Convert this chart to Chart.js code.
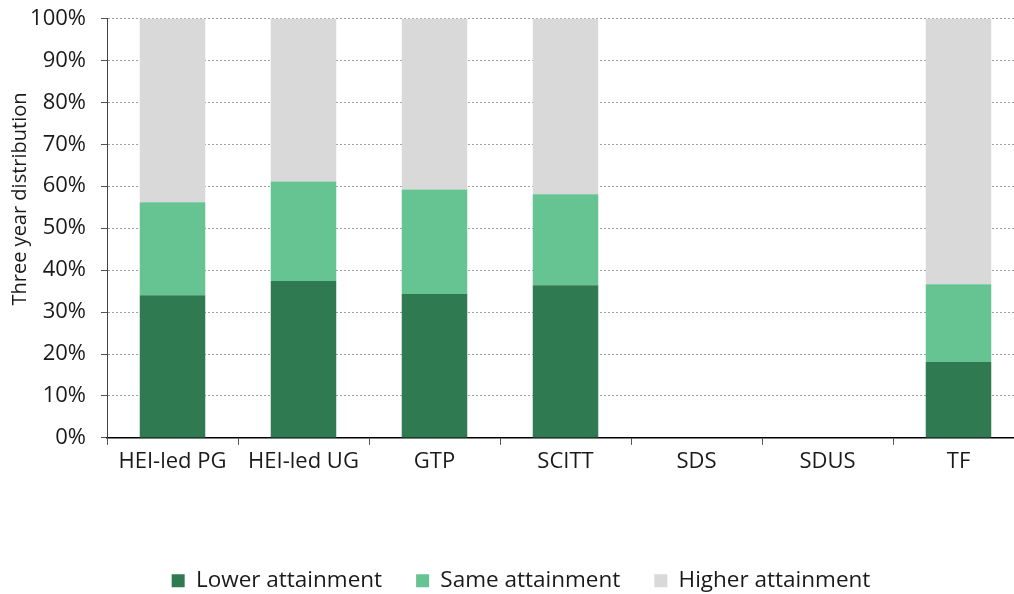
<!DOCTYPE html>
<html>
<head>
<meta charset="utf-8">
<script src="https://cdn.jsdelivr.net/npm/chart.js@4/dist/chart.umd.min.js"></script>
<style>
  html, body { margin: 0; padding: 0; background: #fff; overflow: hidden; }
  #wrap { width: 1024px; height: 594px; position: relative; }
</style>
</head>
<body>
<div id="wrap"><canvas id="c"></canvas></div>
<script>
const categories = ['HEI-led PG', 'HEI-led UG', 'GTP', 'SCITT', 'SDS', 'SDUS', 'TF'];
const lowerAttainment  = [34.0, 37.4, 34.3, 36.4, null, null, 18.1];
const sameAttainment   = [22.2, 23.7, 24.9, 21.7, null, null, 18.5];
const higherAttainment = [43.8, 38.9, 40.8, 41.9, null, null, 63.4];
const seriesNames = ['Lower attainment', 'Same attainment', 'Higher attainment'];
const yTicks = [0, 10, 20, 30, 40, 50, 60, 70, 80, 90, 100];
const yTitle = 'Three year distribution';

const colors = ['#2F7A51', '#66C492', '#D9D9D9'];
const mainFont = "'Open Sans', 'Noto Sans', sans-serif";

Chart.defaults.font.family = mainFont;
Chart.defaults.color = '#1a1a1a';

const legendShift = {
  id: 'legendShift',
  afterLayout(chart) {
    const l = chart.legend;
    if (l) { l.top += 8; l.bottom += 8; l.left += 9; l.right += 9; }
  }
};

const yTitlePlugin = {
  id: 'yTitlePlugin',
  afterDraw(chart) {
    const ctx = chart.ctx;
    ctx.save();
    ctx.translate(20, 199);
    ctx.rotate(-Math.PI / 2);
    ctx.font = "20px " + mainFont;
    ctx.fillStyle = '#1a1a1a';
    ctx.textAlign = 'center';
    ctx.textBaseline = 'middle';
    ctx.fillText(yTitle, 0, 0);
    ctx.restore();
  }
};

new Chart(document.getElementById('c'), {
  type: 'bar',
  data: {
    labels: categories,
    datasets: [lowerAttainment, sameAttainment, higherAttainment].map((d, i) => ({
      label: seriesNames[i],
      data: d,
      backgroundColor: colors[i],
      borderWidth: 0,
      barPercentage: 0.5,
      categoryPercentage: 1.0
    }))
  },
  plugins: [legendShift, yTitlePlugin],
  options: {
    responsive: true,
    maintainAspectRatio: false,
    animation: false,
    layout: { padding: { top: 0, right: 0, left: 0, bottom: 0 } },
    plugins: {
      tooltip: { enabled: false },
      legend: {
        position: 'bottom',
        labels: {
          font: { size: 22.5 },
          color: '#1a1a1a',
          boxWidth: 13,
          boxHeight: 13,
          padding: 34
        }
      }
    },
    scales: {
      x: {
        stacked: true,
        grid: {
          display: true,
          drawOnChartArea: false,
          drawTicks: true,
          tickLength: 7,
          tickColor: '#555',
          offset: true
        },
        border: { display: true, color: '#000', width: 1.5 },
        ticks: { font: { size: 22 }, color: '#1a1a1a', padding: 4, maxRotation: 0 },
        afterFit: (s) => { s.height = 89.6; }
      },
      y: {
        stacked: true,
        min: 0,
        max: 100,
        afterBuildTicks: (s) => { s.ticks = yTicks.map(v => ({ value: v })); },
        afterFit: (s) => { s.width = 107; s.paddingTop = 18.4; s.paddingBottom = 10; },
        grid: {
          color: '#a0a0a0',
          lineWidth: 1,
          drawTicks: true,
          tickLength: 6,
          tickColor: '#555',
          tickBorderDash: []
        },
        border: { display: true, color: '#444', width: 1, dash: [2, 2] },
        ticks: {
          font: { size: 22 },
          color: '#1a1a1a',
          padding: 15,
          callback: (v) => v + '%'
        },
        title: { display: false }
      }
    }
  }
});
</script>
</body>
</html>
